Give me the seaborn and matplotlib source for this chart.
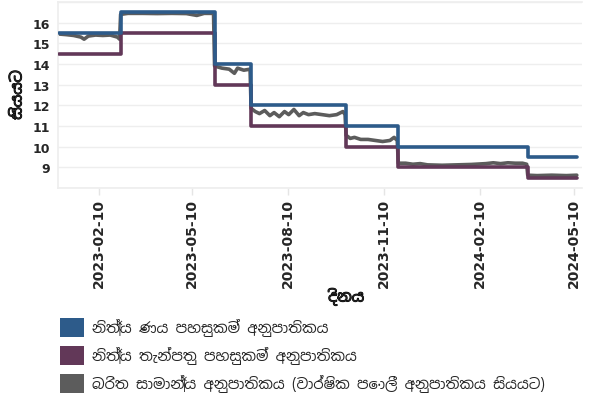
import pandas as pd
import matplotlib
matplotlib.use("Agg")
import matplotlib.pyplot as plt
import matplotlib.dates as mdates
import matplotlib.patheffects as pe
from matplotlib import font_manager
from matplotlib.patches import Patch
import seaborn as sns

# Policy rates (step series): dates where the rate changes, and the new rate
step_dates = ["2023-01-03", "2023-03-03", "2023-06-01", "2023-07-06",
              "2023-10-05", "2023-11-24", "2024-03-27", "2024-05-13"]
slfr = [15.5, 16.5, 14.0, 12.0, 11.0, 10.0, 9.5, 9.5]
sdfr = [14.5, 15.5, 13.0, 11.0, 10.0, 9.0, 8.5, 8.5]

# Weighted average call money rate
awcmr_dates = ["2023-01-03", "2023-01-10", "2023-01-17", "2023-01-24", "2023-01-27",
               "2023-01-31", "2023-02-07", "2023-02-14", "2023-02-21", "2023-02-28",
               "2023-03-02", "2023-03-03", "2023-03-10", "2023-03-24", "2023-04-07",
               "2023-04-21", "2023-05-05", "2023-05-15", "2023-05-22", "2023-05-31",
               "2023-06-01", "2023-06-08", "2023-06-15", "2023-06-20", "2023-06-23",
               "2023-06-29", "2023-07-05", "2023-07-06", "2023-07-10", "2023-07-14",
               "2023-07-19", "2023-07-24", "2023-07-28", "2023-08-02", "2023-08-07",
               "2023-08-11", "2023-08-16", "2023-08-21", "2023-08-25", "2023-08-30",
               "2023-09-05", "2023-09-12", "2023-09-19", "2023-09-26", "2023-10-02",
               "2023-10-04", "2023-10-05", "2023-10-09", "2023-10-13", "2023-10-19",
               "2023-10-26", "2023-11-02", "2023-11-09", "2023-11-16", "2023-11-20",
               "2023-11-23", "2023-11-24", "2023-12-01", "2023-12-08", "2023-12-15",
               "2023-12-22", "2024-01-05", "2024-01-19", "2024-02-02", "2024-02-16",
               "2024-02-23", "2024-03-01", "2024-03-08", "2024-03-15", "2024-03-22",
               "2024-03-26", "2024-03-27", "2024-04-05", "2024-04-19", "2024-05-03",
               "2024-05-13"]
awcmr = [15.45, 15.42, 15.38, 15.30, 15.20,
         15.35, 15.40, 15.38, 15.40, 15.30,
         15.20, 16.40, 16.45, 16.45, 16.44,
         16.45, 16.44, 16.35, 16.45, 16.45,
         13.90, 13.80, 13.75, 13.55, 13.80,
         13.70, 13.75, 11.85, 11.70, 11.60,
         11.75, 11.50, 11.65, 11.45, 11.70,
         11.55, 11.80, 11.50, 11.65, 11.55,
         11.60, 11.55, 11.50, 11.55, 11.70,
         11.55, 10.55, 10.40, 10.45, 10.35,
         10.35, 10.30, 10.25, 10.30, 10.45,
         10.30, 9.20, 9.20, 9.15, 9.18,
         9.12, 9.10, 9.12, 9.14, 9.18,
         9.22, 9.18, 9.22, 9.20, 9.20,
         9.15, 8.62, 8.60, 8.62, 8.60,
         8.62]

labels = ["නිත්‍ය ණය පහසුකම් අනුපාතිකය",
          "නිත්‍ය තැන්පතු පහසුකම් අනුපාතිකය",
          "බරිත සාමාන්‍ය අනුපාතිකය (වාර්ෂික පොලී අනුපාතිකය සියයට)"]
colors = ["#2D5B8A", "#623858", "#5C5C5C"]

sns.set_theme(style="white")
plt.rcParams["font.family"] = ["DejaVu Sans"]

# look for a regular-weight font that has Sinhala glyphs
sinhala_font = None
try:
    from fontTools.ttLib import TTFont
    found = []
    for f in font_manager.fontManager.ttflist:
        try:
            cmap = TTFont(f.fname, fontNumber=0, lazy=True).getBestCmap()
            if cmap and 0x0DC3 in cmap:
                score = abs(int(f.weight) - 400) if str(f.weight).isdigit() else 500
                if f.style != "normal":
                    score += 1000
                if "Sinhala" not in f.name:
                    score += 50
                found.append((score, f.name))
        except Exception:
            pass
    if found:
        sinhala_font = sorted(found)[0][1]
except Exception:
    pass
si_fams = [sinhala_font, "DejaVu Sans"] if sinhala_font else ["DejaVu Sans"]

steps = pd.DataFrame({"date": pd.to_datetime(step_dates), "slfr": slfr, "sdfr": sdfr})
calls = pd.DataFrame({"date": pd.to_datetime(awcmr_dates), "rate": awcmr})

fig = plt.figure(figsize=(5.91, 4.14), dpi=100)
ax = fig.add_axes([58 / 591, 1 - 189 / 414, (582 - 58) / 591, (189 - 3) / 414])

sns.lineplot(data=calls, x="date", y="rate", ax=ax, color=colors[2], linewidth=2.6, zorder=2)
sns.lineplot(data=steps, x="date", y="sdfr", ax=ax, color=colors[1], linewidth=2.6,
             drawstyle="steps-post", zorder=3)
sns.lineplot(data=steps, x="date", y="slfr", ax=ax, color=colors[0], linewidth=2.6,
             drawstyle="steps-post", zorder=4)

ax.set_ylim(8, 17)
ax.set_xlim(pd.Timestamp("2023-01-02"), pd.Timestamp("2024-05-18"))
ax.set_yticks(range(9, 17))
ax.set_yticklabels([str(v) for v in range(9, 17)], fontweight="bold", fontsize=9)
ax.yaxis.grid(True, color="#EEEEEE", linewidth=1)
for v in (8, 17):
    ax.axhline(v, color="#EEEEEE", linewidth=1, zorder=0)

xt = pd.to_datetime(["2023-02-10", "2023-05-10", "2023-08-10", "2023-11-10",
                     "2024-02-10", "2024-05-10"])
ax.set_xticks(xt)
ax.xaxis.set_major_formatter(mdates.DateFormatter("%Y-%m-%d"))
for t in ax.get_xticklabels():
    t.set_rotation(90)
    t.set_fontweight("bold")
    t.set_fontsize(10)
ax.tick_params(axis="x", length=5, color="#E5E5E5", width=1, pad=2, bottom=True)
ax.tick_params(axis="y", length=0, pad=6)

for s in ax.spines.values():
    s.set_color("#EEEEEE")
ax.spines["right"].set_visible(False)

# no bold Sinhala face available, so thicken the glyphs with a stroke
bold = [pe.withStroke(linewidth=0.7, foreground="black")]
ax.set_xlabel("දිනය", family=si_fams, fontsize=11, fontweight="bold", path_effects=bold)
ax.set_ylabel("සියයට", family=si_fams, fontsize=11, fontweight="bold", path_effects=bold)
ax.xaxis.set_label_coords(0.55, -0.54)
ax.yaxis.set_label_coords(-0.062, 0.5)

handles = [Patch(facecolor=c, edgecolor="none") for c in colors]
fig.legend(handles, labels, loc="upper left", bbox_to_anchor=(60 / 591, 1 - 319 / 414),
           frameon=False, prop={"family": si_fams, "size": 10.5},
           handlelength=1.65, handleheight=1.65, labelspacing=0.6, handletextpad=0.55,
           borderpad=0, borderaxespad=0)

fig.savefig("out.png", dpi=100)
